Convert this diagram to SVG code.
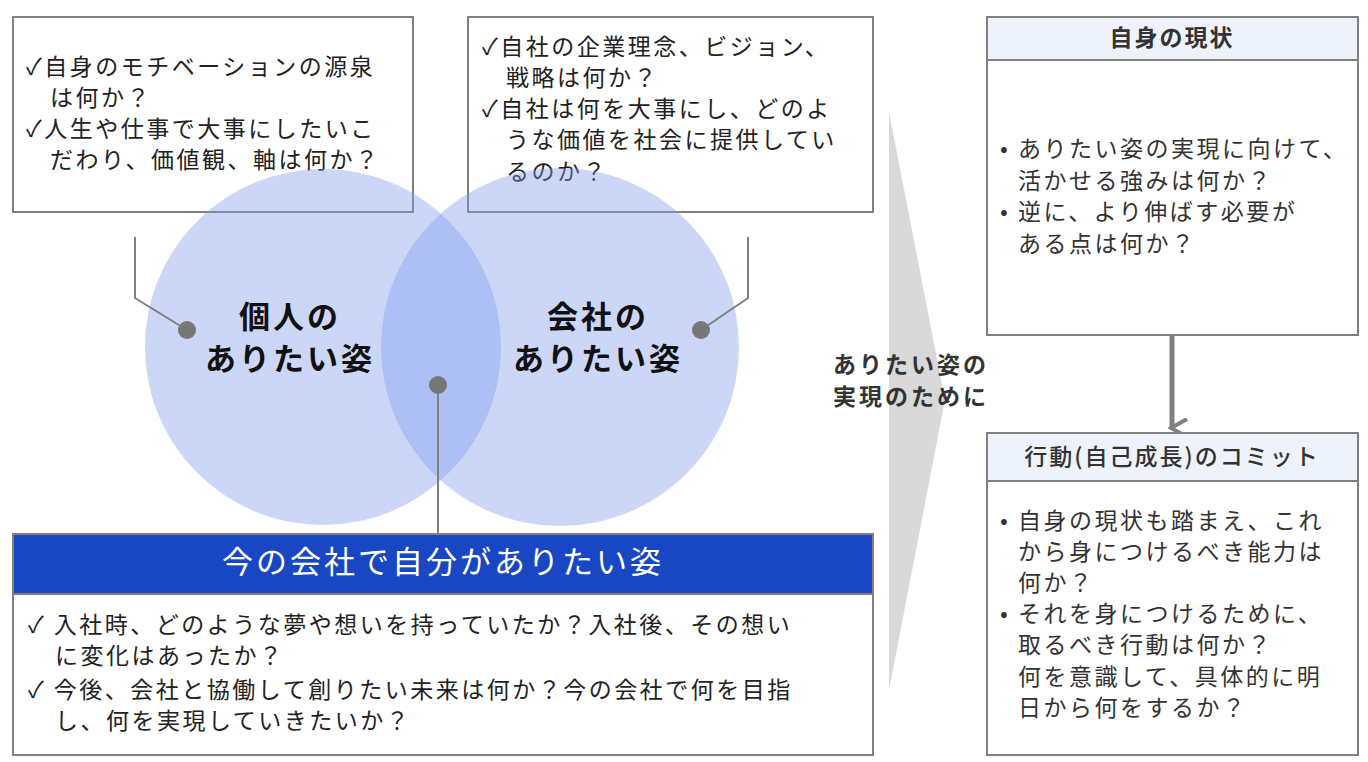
<svg xmlns="http://www.w3.org/2000/svg" width="1368" height="762" viewBox="0 0 1368 762">
<style>
text{font-family:"Noto Sans CJK JP","Noto Sans",sans-serif;fill:#222}
.box{fill:#fff;stroke:#808080;stroke-width:2}
.hdr{fill:#eef2fa;stroke:#808080;stroke-width:2}
.t{font-size:23px;letter-spacing:2.5px}
.lbl{font-size:31px;font-weight:bold;letter-spacing:3px;text-anchor:middle;fill:#111}
.circ{fill:#7f9bee;fill-opacity:0.4}
.lead{fill:none;stroke:#808080;stroke-width:2}
.dot{fill:#777}
</style>
<defs>
<marker id="ah" viewBox="0 0 20 20" refX="10" refY="16" markerWidth="20" markerHeight="20" markerUnits="userSpaceOnUse" orient="auto-start-reverse">
<path d="M1,1 L10,17 L19,1" fill="none" stroke="#808080" stroke-width="4"/>
</marker>
</defs>
<rect width="1368" height="762" fill="#fff"/>
<polygon points="889,112 945,400 889,690" fill="#d9d9d9"/>
<g id="box-personal">
<rect class="box" x="13" y="17" width="400" height="195"/>
<text class="t"><tspan x="26" y="75">✓自身のモチベーションの源泉</tspan><tspan x="50" y="106">は何か？</tspan><tspan x="26" y="137">✓人生や仕事で大事にしたいこ</tspan><tspan x="50" y="168">だわり、価値観、軸は何か？</tspan></text>
</g>
<g id="box-company">
<rect class="box" x="468" y="17" width="405" height="195"/>
<text class="t"><tspan x="482" y="55">✓自社の企業理念、ビジョン、</tspan><tspan x="506" y="86">戦略は何か？</tspan><tspan x="482" y="117">✓自社は何を大事にし、どのよ</tspan><tspan x="506" y="148">うな価値を社会に提供してい</tspan><tspan x="506" y="180">るのか？</tspan></text>
</g>
<g id="venn">
<circle class="circ" cx="323" cy="347" r="178"/>
<circle class="circ" cx="560" cy="347" r="179"/>
<text class="lbl"><tspan x="290" y="328">個人の</tspan><tspan x="290" y="370">ありたい姿</tspan></text>
<text class="lbl"><tspan x="598" y="328">会社の</tspan><tspan x="598" y="370">ありたい姿</tspan></text>
</g>
<g id="connectors">
<polyline class="lead" points="135,237 135,298 187,330"/>
<polyline class="lead" points="748,237 748,298 701,330"/>
<line class="lead" x1="438" y1="385" x2="438" y2="533"/>
<circle class="dot" cx="187" cy="330" r="9"/>
<circle class="dot" cx="701" cy="330" r="9"/>
<circle class="dot" cx="438" cy="385" r="9"/>
<line x1="1172" y1="336" x2="1172" y2="428" stroke="#808080" stroke-width="5" marker-end="url(#ah)"/>
</g>
<g id="box-now">
<rect x="13" y="534" width="860" height="60" fill="#1947c4" stroke="#808080" stroke-width="2"/>
<text x="443" y="573" style="font-size:31px;letter-spacing:3px;text-anchor:middle;fill:#fff">今の会社で自分がありたい姿</text>
<rect class="box" x="13" y="594" width="860" height="161"/>
<text class="t"><tspan x="28" y="633">✓ 入社時、どのような夢や想いを持っていたか？入社後、その想い</tspan><tspan x="55" y="664">に変化はあったか？</tspan><tspan x="28" y="698">✓ 今後、会社と協働して創りたい未来は何か？今の会社で何を目指</tspan><tspan x="55" y="729">し、何を実現していきたいか？</tspan></text>
</g>
<g id="mid-label">
<text style="font-size:23px;font-weight:bold;letter-spacing:3px;fill:#333"><tspan x="833" y="373">ありたい姿の</tspan><tspan x="833" y="405">実現のために</tspan></text>
</g>
<g id="box-status">
<rect class="hdr" x="987" y="17" width="371" height="43"/>
<text x="1172" y="46" style="font-size:23px;font-weight:bold;letter-spacing:2px;text-anchor:middle;fill:#333">自身の現状</text>
<rect class="box" x="987" y="60" width="371" height="275"/>
<text class="t" style="fill:#333"><tspan x="1000" y="157">• ありたい姿の実現に向けて、</tspan><tspan x="1018" y="189">活かせる強みは何か？</tspan><tspan x="1000" y="220">• 逆に、より伸ばす必要が</tspan><tspan x="1018" y="252">ある点は何か？</tspan></text>
</g>
<g id="box-commit">
<rect class="hdr" x="987" y="433" width="371" height="48"/>
<text x="1172" y="465" style="font-size:23px;font-weight:500;letter-spacing:2px;text-anchor:middle;fill:#333">行動(自己成長)のコミット</text>
<rect class="box" x="987" y="481" width="371" height="274"/>
<text class="t" style="fill:#333"><tspan x="1000" y="529">• 自身の現状も踏まえ、これ</tspan><tspan x="1018" y="560">から身につけるべき能力は</tspan><tspan x="1018" y="591">何か？</tspan><tspan x="1000" y="622">• それを身につけるために、</tspan><tspan x="1018" y="653">取るべき行動は何か？</tspan><tspan x="1018" y="685">何を意識して、具体的に明</tspan><tspan x="1018" y="716">日から何をするか？</tspan></text>
</g>
</svg>
